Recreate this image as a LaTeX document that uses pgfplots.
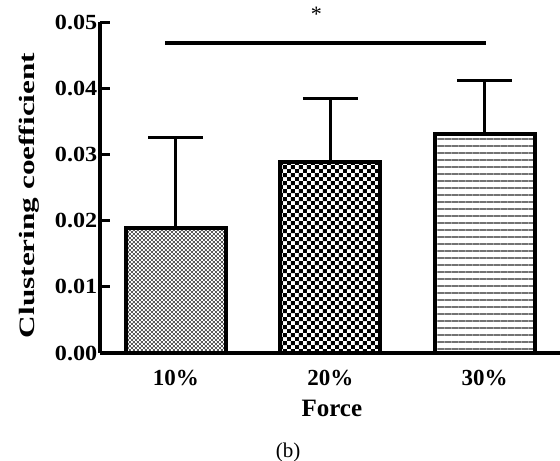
\documentclass[border=0pt]{standalone}
\usepackage{graphicx}
\usepackage{pgfplots}
\pgfplotsset{compat=1.18}
\usetikzlibrary{patterns,patterns.meta}
\usepackage{fontspec}
\setmainfont{Liberation Serif}

\tikzdeclarepattern{name=finechecker, type=uncolored,
  bounding box={(0pt,0pt) and (2pt,2pt)}, tile size={(2pt,2pt)},
  code={\fill (0pt,0pt) rectangle (1pt,1pt); \fill (1pt,1pt) rectangle (2pt,2pt);}}
\tikzdeclarepattern{name=bigchecker, type=uncolored,
  bounding box={(0pt,0pt) and (4pt,4pt)}, tile size={(4pt,4pt)},
  code={\fill (0pt,0pt) rectangle (2pt,2pt); \fill (2pt,2pt) rectangle (4pt,4pt);}}

\begin{document}
\begin{tikzpicture}
\begin{axis}[
  scale only axis,
  width=230pt, height=165.5pt,
  xmin=-0.4925, xmax=2.4887,
  ymin=0, ymax=0.05,
  axis x line*=bottom, axis y line*=left,
  axis line style={line width=1.6pt, black},
  clip=false,
  scaled y ticks=false,
  xtick={0,1,2}, xticklabels={10\%,20\%,30\%},
  x tick style={draw=none},
  ytick={0,0.01,0.02,0.03,0.04,0.05},
  yticklabels={0.00,0.01,0.02,0.03,0.04,0.05},
  y tick style={line width=1.5pt, black},
  tick align=inside, major tick length=5pt,
  yticklabel style={inner sep=1pt, font=\fontsize{10.8}{12}\selectfont\bfseries, xscale=1.12, anchor=east},
  xticklabel style={yshift=-5pt, font=\fontsize{11.5}{12}\selectfont\bfseries},
  ylabel={\scalebox{1.42}[1]{Clustering coefficient}},
  ylabel style={at={(rel axis cs:-0.154,0.476)}, anchor=center, font=\fontsize{11}{12}\selectfont\bfseries},
  xlabel={Force},
  xlabel style={at={(rel axis cs:0.504,-0.166)}, anchor=center, font=\fontsize{12.5}{12}\selectfont\bfseries},
]
\addplot[ybar, bar width=50pt, bar shift=0pt, draw=black, line width=2pt,
  pattern=finechecker, pattern color=black!65,
  error bars/.cd, y dir=plus, y explicit,
  error bar style={line width=1.5pt, black},
  error mark options={rotate=90, line width=1.5pt, black, mark size=13.75pt}]
  coordinates {(0,0.0189) +- (0,0.0136)};
\addplot[ybar, bar width=50pt, bar shift=0pt, draw=black, line width=2pt,
  pattern=bigchecker, pattern color=black,
  error bars/.cd, y dir=plus, y explicit,
  error bar style={line width=1.5pt, black},
  error mark options={rotate=90, line width=1.5pt, black, mark size=13.75pt}]
  coordinates {(1,0.0289) +- (0,0.0095)};
\addplot[ybar, bar width=50pt, bar shift=0pt, draw=black, line width=2pt,
  pattern={Lines[angle=0, distance=3.5pt, line width=0.9pt]}, pattern color=black!55,
  error bars/.cd, y dir=plus, y explicit,
  error bar style={line width=1.5pt, black},
  error mark options={rotate=90, line width=1.5pt, black, mark size=13.75pt}]
  coordinates {(2,0.0331) +- (0,0.0080)};
\addplot[sharp plot, line width=2pt, black, no markers]
  coordinates {(-0.07,0.0468) (2.01,0.0468)};
\node at (axis cs:0.91,0.0511) {\fontsize{11}{12}\selectfont *};
\node at (rel axis cs:0.409,-0.299) {\fontsize{10.5}{12}\selectfont (b)};
\coordinate (bl) at (rel axis cs:-0.2174,-0.3263);
\coordinate (tr) at (rel axis cs:1,1.0665);
\end{axis}
\pgfresetboundingbox
\path (bl) rectangle (tr);
\end{tikzpicture}
\end{document}
